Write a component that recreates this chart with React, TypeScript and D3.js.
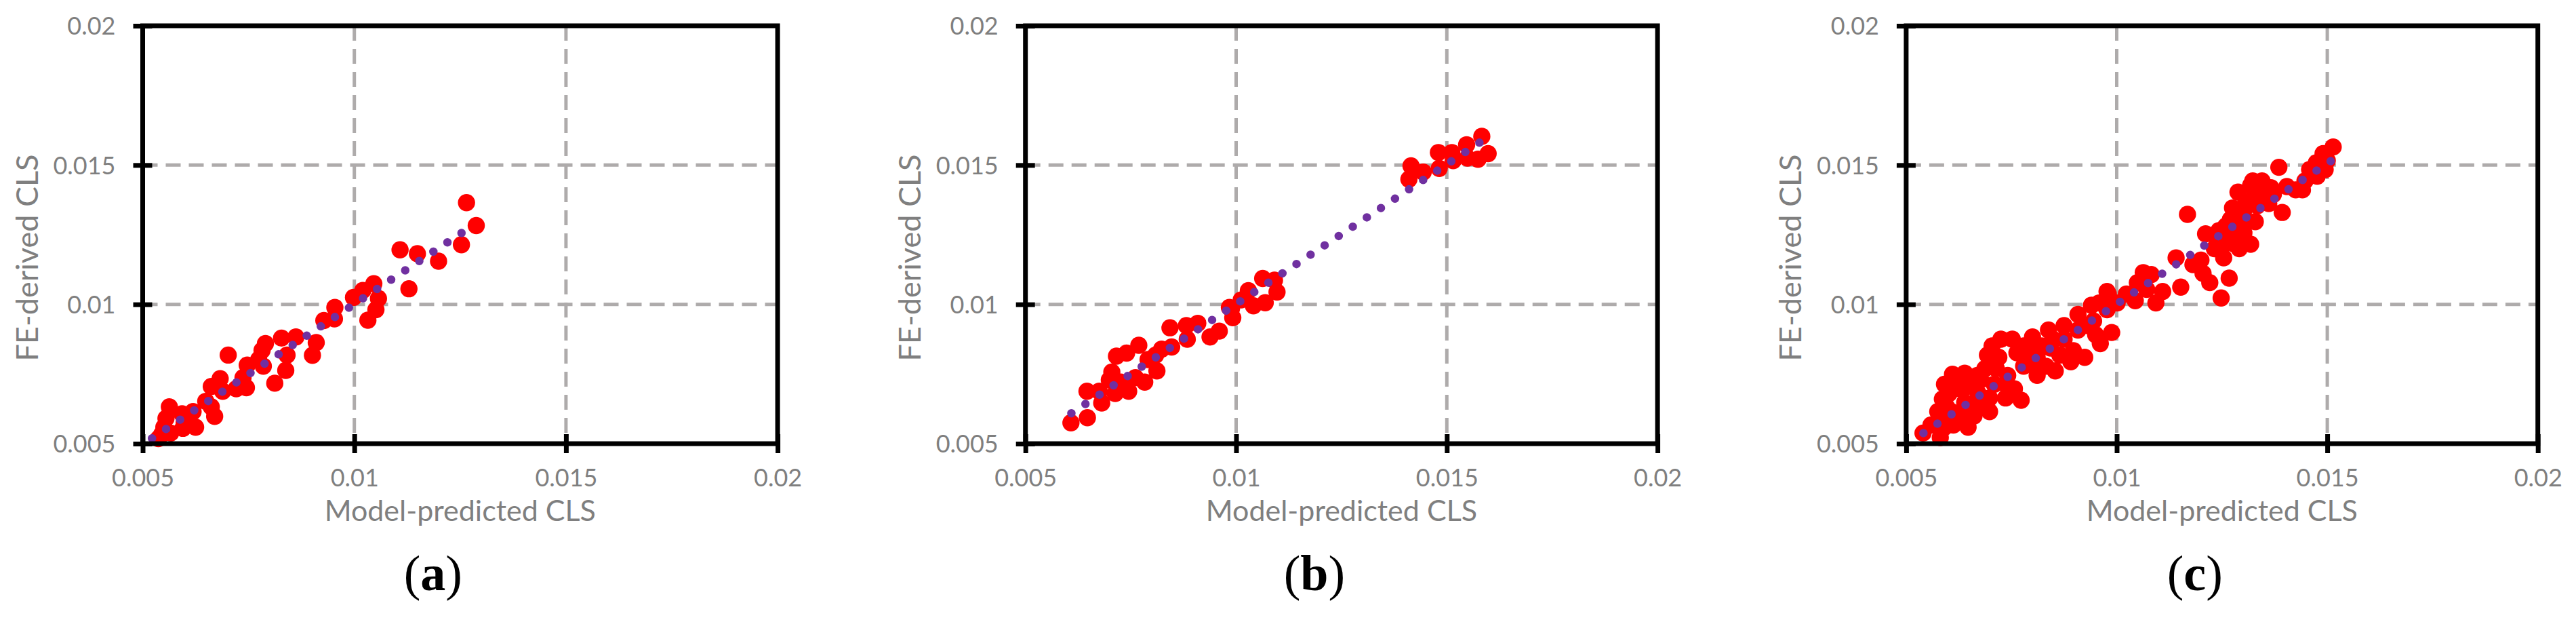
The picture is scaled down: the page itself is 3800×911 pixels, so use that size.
import React, { useEffect, useRef } from 'react';
import { select, scaleLinear, axisLeft, axisBottom, line } from 'd3';

// axis ticks (same on both axes, all panels)
const tickValues = [0.005, 0.01, 0.015, 0.02];
const tickLabels = ['0.005', '0.01', '0.015', '0.02'];
const gridValues = [0.01, 0.015];

const xTitle = 'Model-predicted CLS';
const yTitle = 'FE-derived CLS';
const panelLetters = ['a', 'b', 'c'];

// panel (a): model-predicted vs FE-derived
const aX = [0.01265, 0.01288, 0.01253, 0.01199, 0.01108, 0.01149, 0.01129, 0.01046, 0.01057, 0.0102,
  0.00998, 0.01051, 0.01032, 0.00954, 0.00953, 0.00928, 0.0091, 0.00901, 0.00862, 0.00828,
  0.00841, 0.00838, 0.00812, 0.0079, 0.00782, 0.00774, 0.00785, 0.00747, 0.00737, 0.00745,
  0.00702, 0.00721, 0.00683, 0.00689, 0.00662, 0.0067, 0.00649, 0.00662, 0.00619, 0.00625,
  0.00593, 0.00595, 0.00563, 0.00555, 0.0055, 0.00566, 0.00537, 0.00545, 0.00598];
const aY = [0.01365, 0.01283, 0.01214, 0.01155, 0.01196, 0.01182, 0.01056, 0.01074, 0.01021, 0.0105,
  0.01025, 0.00981, 0.00943, 0.00989, 0.00948, 0.00942, 0.00863, 0.00817, 0.00883, 0.00879,
  0.00818, 0.00763, 0.00717, 0.00859, 0.00835, 0.00802, 0.00778, 0.00782, 0.00737, 0.00701,
  0.00818, 0.00697, 0.00733, 0.00688, 0.00705, 0.00598, 0.00652, 0.00632, 0.00615, 0.00559,
  0.00607, 0.00555, 0.00632, 0.00591, 0.00559, 0.00538, 0.00518, 0.00534, 0.00575];
const trendAX = [0.00522, 0.01257];
const trendAY = [0.00519, 0.0126];

// panel (b)
const bX = [0.00608, 0.00647, 0.00646, 0.00681, 0.00675, 0.00699, 0.00705, 0.00713, 0.00716, 0.0074,
  0.00769, 0.00726, 0.00745, 0.00761, 0.00783, 0.00791, 0.00812, 0.00823, 0.00843, 0.00847,
  0.00882, 0.00884, 0.00909, 0.00938, 0.0096, 0.00989, 0.00992, 0.00809,
  0.00984, 0.01029, 0.01041, 0.01063, 0.01069, 0.01091, 0.01097, 0.01012,
  0.01415, 0.0141, 0.01444, 0.01482, 0.0148, 0.01512, 0.01547, 0.01549, 0.01583, 0.01598, 0.01574, 0.01515];
const bY = [0.00575, 0.00593, 0.00688, 0.00646, 0.00688, 0.00729, 0.00757, 0.0068, 0.00814, 0.00825,
  0.00853, 0.00721, 0.00688, 0.00737, 0.00721, 0.00802, 0.00761, 0.00839, 0.00916, 0.00847,
  0.00924, 0.00875, 0.00932, 0.00883, 0.00904, 0.00985, 0.00952, 0.00818,
  0.00989, 0.01049, 0.00995, 0.01093, 0.01006, 0.01087, 0.01044, 0.01016,
  0.01497, 0.01449, 0.01475, 0.01488, 0.01545, 0.01545, 0.01573, 0.01525, 0.01603, 0.01541, 0.01521, 0.01516];
const trendBX = [0.00609, 0.01582];
const trendBY = [0.00609, 0.01585];

// panel (c)
const cX = [0.0054, 0.00559, 0.00581, 0.00591, 0.00586, 0.0061, 0.00639, 0.00669, 0.00612, 0.00647,
  0.00607, 0.00639, 0.00671, 0.00682, 0.00698, 0.00693, 0.00704, 0.00725, 0.00752, 0.00709,
  0.00741, 0.00736, 0.00773, 0.00779, 0.00811, 0.00811, 0.008, 0.00838, 0.00843, 0.00854,
  0.00875, 0.00875, 0.00891, 0.00908, 0.00908, 0.00924, 0.0094, 0.00945, 0.00961, 0.00977,
  0.00977, 0.00988, 0.00588, 0.00661, 0.00628, 0.00591,
  0.00623, 0.00655, 0.00687, 0.0072, 0.00763, 0.00779, 0.00822, 0.00848, 0.00865, 0.00897,
  0.00929, 0.0095, 0.00736, 0.00757, 0.00698, 0.00655, 0.00623, 0.00596, 0.00575, 0.00677,
  0.00714, 0.008, 0.00832, 0.00789, 0.00634, 0.00666, 0.00602, 0.00645,
  0.01514, 0.0149, 0.01474, 0.01458, 0.01476, 0.01447, 0.01425, 0.01404, 0.01385, 0.01393,
  0.01168, 0.01267, 0.01152, 0.01248, 0.01221, 0.01205, 0.01141, 0.012, 0.01181, 0.01288,
  0.01318, 0.01345, 0.01366, 0.01361, 0.01334, 0.01307, 0.01275, 0.0127, 0.01307, 0.01329,
  0.01259, 0.01302, 0.01254, 0.01211, 0.01232, 0.0128, 0.01318, 0.01254, 0.01291, 0.01372,
  0.01334, 0.01302, 0.01286, 0.01264, 0.01232, 0.0135, 0.01441, 0.01495, 0.01323, 0.0128, 0.01243,
  0.0098, 0.01023, 0.01082, 0.01109, 0.01071, 0.00958, 0.01001, 0.01044, 0.01093, 0.01049, 0.015, 0.01063];
const cY = [0.00538, 0.00567, 0.00522, 0.00559, 0.0066, 0.00749, 0.00753, 0.00745, 0.00567, 0.00559,
  0.00615, 0.00648, 0.0068, 0.00632, 0.00615, 0.00818, 0.00851, 0.00875, 0.00875, 0.00713,
  0.00745, 0.00664, 0.00656, 0.00778, 0.0081, 0.00745, 0.00883, 0.00908, 0.00843, 0.00761,
  0.00924, 0.00875, 0.00794, 0.00964, 0.00908, 0.0081, 0.00997, 0.0094, 0.00859, 0.01046,
  0.00981, 0.00899, 0.00599, 0.00599, 0.00697, 0.00713,
  0.00737, 0.00713, 0.00769, 0.0081, 0.00826, 0.00851, 0.00851, 0.00875, 0.00818, 0.00834,
  0.00924, 0.00891, 0.00713, 0.00697, 0.00664, 0.00632, 0.00599, 0.00632, 0.00615, 0.00729,
  0.00769, 0.00794, 0.00778, 0.00834, 0.00615, 0.0064, 0.0068, 0.00705,
  0.01565, 0.01541, 0.01508, 0.01484, 0.0146, 0.01443, 0.01411, 0.01423, 0.01492, 0.0133,
  0.01323, 0.01094, 0.01062, 0.01023, 0.01078, 0.01111, 0.01167, 0.01159, 0.01143, 0.01403,
  0.01427, 0.01443, 0.01419, 0.01362, 0.01354, 0.0137, 0.01346, 0.01305, 0.01297, 0.01297,
  0.01281, 0.01257, 0.01216, 0.01253, 0.01249, 0.01216, 0.01216, 0.01167, 0.012, 0.01395,
  0.01403, 0.01338, 0.01265, 0.01232, 0.012, 0.01387, 0.01411, 0.01484, 0.01443, 0.01322, 0.01265,
  0.01037, 0.01037, 0.01107, 0.01046, 0.01054, 0.01005, 0.01005, 0.01013, 0.01005, 0.01078, 0.01516, 0.01114];
const trendCX = [0.00541, 0.01514];
const trendCY = [0.00538, 0.0152];

const panels = [
  { xs: aX, ys: aY, tx: trendAX, ty: trendAY, letter: panelLetters[0] },
  { xs: bX, ys: bY, tx: trendBX, ty: trendBY, letter: panelLetters[1] },
  { xs: cX, ys: cY, tx: trendCX, ty: trendCY, letter: panelLetters[2] },
];

const panelLeft = [210.5, 1512.7, 2811.9];
const panelWidth = [936.6, 932.4, 931.8];
const plotTop = 38;
const plotHeight = 616;

const labelFont = 'Lato, "Open Sans", sans-serif';
const gray = '#7f7f7f';

export default function App() {
  const ref = useRef<SVGSVGElement | null>(null);

  useEffect(() => {
    document.body.style.margin = '0';
    if (!ref.current) return;
    const svg = select(ref.current);
    svg.selectAll('*').remove();

    svg.append('rect').attr('width', 3800).attr('height', 911).attr('fill', '#fff');

    panels.forEach((p, i) => {
      const w = panelWidth[i];
      const h = plotHeight;
      const x = scaleLinear().domain([0.005, 0.02]).range([0, w]);
      const y = scaleLinear().domain([0.005, 0.02]).range([h, 0]);

      const g = svg.append('g').attr('transform', `translate(${panelLeft[i]},${plotTop})`);

      // dashed grid
      const grid = g.append('g')
        .attr('stroke', '#aeabab')
        .attr('stroke-width', 5)
        .attr('stroke-dasharray', '22 12');
      grid.selectAll('line.v').data(gridValues).join('line')
        .attr('class', 'v')
        .attr('x1', d => x(d)).attr('x2', d => x(d))
        .attr('y1', 0).attr('y2', h);
      grid.selectAll('line.h').data(gridValues).join('line')
        .attr('class', 'h')
        .attr('y1', d => y(d)).attr('y2', d => y(d))
        .attr('x1', 0).attr('x2', w);

      // scatter points
      const pts = p.xs.map((v, j) => [v, p.ys[j]]);
      g.append('g').selectAll('circle').data(pts).join('circle')
        .attr('cx', d => x(d[0]))
        .attr('cy', d => y(d[1]))
        .attr('r', 12.7)
        .attr('fill', '#ff0000');

      // dotted trend line
      const trend = p.tx.map((v, j) => [v, p.ty[j]] as [number, number]);
      g.append('path')
        .datum(trend)
        .attr('fill', 'none')
        .attr('stroke', '#7030a0')
        .attr('stroke-width', 12.5)
        .attr('stroke-linecap', 'round')
        .attr('stroke-dasharray', '0 24.9')
        .attr('d', line<[number, number]>().x(d => x(d[0])).y(d => y(d[1])));

      // frame
      g.append('rect')
        .attr('width', w).attr('height', h)
        .attr('fill', 'none')
        .attr('stroke', '#000')
        .attr('stroke-width', 7);

      // axes with cross ticks
      g.append('g')
        .call(axisLeft(y).tickValues(tickValues).tickFormat((_, j) => tickLabels[j]).tickSize(14).tickPadding(26))
        .call(a => a.select('.domain').remove())
        .call(a => a.selectAll('.tick line').attr('x1', 14).attr('stroke', '#000').attr('stroke-width', 7))
        .call(a => a.selectAll('.tick text').attr('fill', gray).attr('dy', '0.36em'))
        .attr('font-family', labelFont)
        .attr('font-size', 36);

      g.append('g')
        .attr('transform', `translate(0,${h})`)
        .call(axisBottom(x).tickValues(tickValues).tickFormat((_, j) => tickLabels[j]).tickSize(14).tickPadding(23))
        .call(a => a.select('.domain').remove())
        .call(a => a.selectAll('.tick line').attr('y1', -14).attr('stroke', '#000').attr('stroke-width', 7))
        .call(a => a.selectAll('.tick text').attr('fill', gray))
        .attr('font-family', labelFont)
        .attr('font-size', 36);

      // axis titles
      g.append('text')
        .attr('x', w / 2)
        .attr('y', h + 114)
        .attr('text-anchor', 'middle')
        .attr('font-family', labelFont)
        .attr('font-size', 43)
        .attr('fill', gray)
        .text(xTitle);

      g.append('text')
        .attr('transform', `translate(-154.5,${h / 2 + 34}) rotate(-90)`)
        .attr('text-anchor', 'middle')
        .attr('font-family', labelFont)
        .attr('font-size', 45)
        .attr('fill', gray)
        .text(yTitle);

      // sub-figure label
      const lab = g.append('text')
        .attr('x', w / 2 - 40)
        .attr('y', 832)
        .attr('text-anchor', 'middle')
        .attr('font-family', '"Liberation Serif", "Times New Roman", serif')
        .attr('font-size', 74)
        .attr('fill', '#000');
      lab.append('tspan').text('(');
      lab.append('tspan').attr('font-weight', 'bold').text(p.letter);
      lab.append('tspan').text(')');
    });
  }, []);

  return <svg ref={ref} width={3800} height={911} style={{ display: 'block' }} />;
}
